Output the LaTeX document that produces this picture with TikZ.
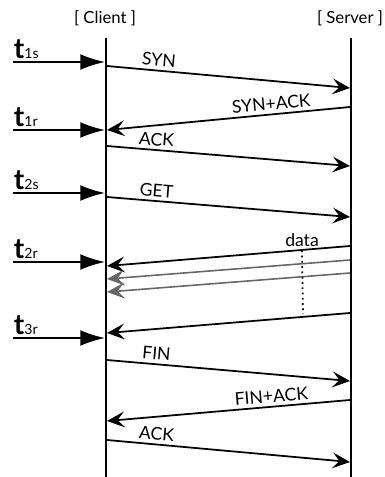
\documentclass[tikz,border=0pt]{standalone}
\usepackage{fontspec}
\setmainfont{Lato}
\usetikzlibrary{arrows.meta}

\newcommand{\timelabel}[1]{{\fontsize{16}{16}\bfseries t}{\fontsize{8}{8}\selectfont #1}}

\tikzset{
  life/.style={line width=1.1pt},
  head/.style={font=\fontsize{9.5}{10}\selectfont, inner sep=1pt},
  msg/.style={line width=1pt, -{Stealth[length=10pt,width=9pt,inset=4pt]}},
  datamsg/.style={msg, draw=black!60, line width=0.9pt},
  tick/.style={line width=1.1pt, -{Latex[length=14pt,width=9pt]}},
  lbl/.style={font=\fontsize{10}{11}\selectfont, inner sep=2pt},
  tlab/.style={anchor=base west, inner sep=0pt, yshift=2pt},
}

\begin{document}
\begin{tikzpicture}[x=0.02cm,y=-0.02cm]
\useasboundingbox (0,0) rectangle (385,477);
\node[head] (client) at (105,18) {[ Client ]};
\node[head] (server) at (350,18) {[ Server ]};
\coordinate (ctop) at (106,38); \coordinate (cbot) at (106,477);
\coordinate (stop) at (351,38); \coordinate (sbot) at (351,477);
\draw[life] (ctop) -- (cbot);
\draw[life] (stop) -- (sbot);
\foreach \n/\yc/\ys in {1/66/88, 2/130/107, 3/146/166, 4/197/217, 5/266/246, 6/279/260,
  7/292/273, 8/333/313, 9/360/381, 10/421/400, 11/440/462}
  {\coordinate (c\n) at (107,\yc); \coordinate (s\n) at (350,\ys);}
\foreach \n/\y in {1/62, 2/130, 3/193, 4/262, 5/338}
  {\coordinate (l\n) at (13,\y); \coordinate (k\n) at (105,\y);}
\draw[tick] (l1) node[tlab] {\timelabel{1s}} -- (k1);
\draw[tick] (l2) node[tlab] {\timelabel{1r}} -- (k2);
\draw[tick] (l3) node[tlab] {\timelabel{2s}} -- (k3);
\draw[tick] (l4) node[tlab] {\timelabel{2r}} -- (k4);
\draw[tick] (l5) node[tlab] {\timelabel{3r}} -- (k5);
\draw[msg] (c1) -- node[lbl,sloped,above,pos=.21] {SYN} (s1);
\draw[msg] (s2) -- node[lbl,sloped,above,pos=.32] {SYN+ACK} (c2);
\draw[msg] (c3) -- node[lbl,sloped,above,pos=.2] {ACK} (s3);
\draw[msg] (c4) -- node[lbl,sloped,above,pos=.2] {GET} (s4);
\draw[msg] (s5) -- (c5);
\draw[datamsg] (s6) -- (c6);
\draw[datamsg] (s7) -- (c7);
\node[lbl] (data) at (302,240) {data};
\coordinate (dbot) at (303,314);
\draw[line width=1pt, dotted] (data.south) -- (dbot);
\draw[msg] (s8) -- (c8);
\draw[msg] (c9) -- node[lbl,sloped,above,pos=.2] {FIN} (s9);
\draw[msg] (s10) -- node[lbl,sloped,above,pos=.32] {FIN+ACK} (c10);
\draw[msg] (c11) -- node[lbl,sloped,above,pos=.2] {ACK} (s11);
\end{tikzpicture}
\end{document}
